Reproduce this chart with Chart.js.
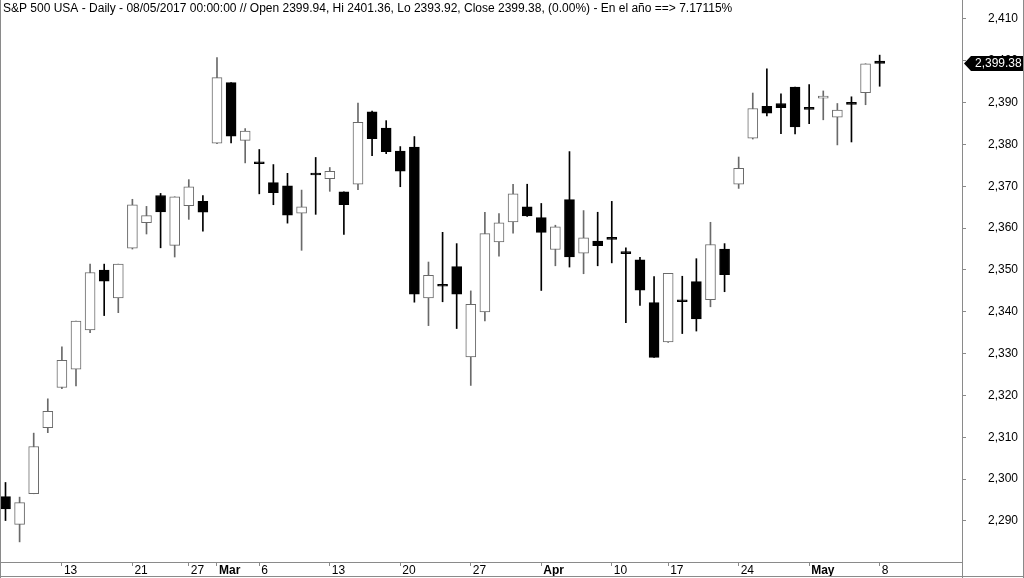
<!DOCTYPE html>
<html>
<head>
<meta charset="utf-8">
<script src="https://cdn.jsdelivr.net/npm/chart.js@4.4.1/dist/chart.umd.min.js"></script>
<style>
  html, body { margin: 0; padding: 0; background: #ffffff; }
  #wrap { width: 1024px; height: 578px; }
</style>
</head>
<body>
<div id="wrap"><canvas id="c" width="1024" height="578"></canvas></div>
<script>
// Trading days shown (index 0 = 2017-02-07 ... index 62 = 2017-05-08)
const days = [
  '07/02','08/02','09/02','10/02','13/02','14/02','15/02','16/02','17/02','21/02','22/02','23/02','24/02','27/02','28/02',
  '01/03','02/03','03/03','06/03','07/03','08/03','09/03','10/03','13/03','14/03','15/03','16/03','17/03','20/03','21/03','22/03','23/03','24/03','27/03','28/03','29/03','30/03','31/03',
  '03/04','04/04','05/04','06/04','07/04','10/04','11/04','12/04','13/04','17/04','18/04','19/04','20/04','21/04','24/04','25/04','26/04','27/04','28/04',
  '01/05','02/05','03/05','04/05','05/05','08/05'
];
const openVals = [2295.8, 2289.2, 2296.5, 2312.3, 2321.9, 2326.3, 2335.7, 2350.0, 2343.3, 2355.2, 2361.3, 2367.8, 2355.9, 2365.4, 2366.4,
  2380.3, 2394.8, 2381.0, 2375.4, 2370.9, 2370.1, 2363.6, 2372.7, 2371.8, 2368.7, 2370.5, 2387.8, 2383.9, 2378.4, 2379.4, 2343.3, 2346.2, 2350.8, 2329.2, 2340.0, 2356.7, 2361.5, 2365.1,
  2362.5, 2354.9, 2366.8, 2354.0, 2356.9, 2357.3, 2354.1, 2352.4, 2342.2, 2332.8, 2342.7, 2347.2, 2342.9, 2355.0, 2370.5, 2381.5, 2389.1, 2389.8, 2393.7,
  2388.6, 2391.1, 2386.5, 2389.8, 2392.4, 2399.94];
const highVals = [2299.2, 2295.7, 2311.0, 2319.2, 2331.6, 2337.8, 2351.4, 2351.4, 2351.4, 2366.9, 2365.2, 2368.3, 2367.5, 2371.6, 2367.8,
  2400.8, 2394.8, 2383.8, 2378.8, 2375.2, 2373.1, 2369.1, 2376.9, 2374.5, 2368.7, 2389.9, 2388.0, 2385.7, 2379.5, 2381.9, 2351.9, 2359.0, 2356.3, 2345.0, 2363.8, 2363.5, 2370.5, 2370.5,
  2365.9, 2360.7, 2378.3, 2364.2, 2363.8, 2366.4, 2355.3, 2353.0, 2348.4, 2349.2, 2348.5, 2352.7, 2361.4, 2356.3, 2377.0, 2392.3, 2398.1, 2392.1, 2393.7,
  2394.3, 2392.8, 2389.8, 2391.4, 2399.3, 2401.36];
const lowVals = [2290.1, 2285.0, 2296.5, 2311.1, 2321.6, 2322.3, 2335.0, 2339.1, 2339.8, 2355.0, 2358.6, 2355.3, 2353.1, 2362.1, 2359.3,
  2380.2, 2380.4, 2375.6, 2368.2, 2365.6, 2361.2, 2354.7, 2363.3, 2368.8, 2358.5, 2369.2, 2377.3, 2377.8, 2369.9, 2342.3, 2336.7, 2342.4, 2336.0, 2322.4, 2337.8, 2353.3, 2358.8, 2362.8,
  2345.1, 2351.0, 2350.7, 2349.1, 2351.0, 2351.7, 2337.4, 2341.5, 2329.1, 2332.7, 2334.8, 2335.4, 2341.2, 2344.8, 2369.5, 2381.3, 2386.8, 2382.6, 2382.5,
  2385.0, 2385.9, 2379.9, 2380.6, 2389.5, 2393.92];
const closeVals = [2292.9, 2294.4, 2307.8, 2316.2, 2328.4, 2337.8, 2349.4, 2347.3, 2351.4, 2365.6, 2363.0, 2363.9, 2367.5, 2369.9, 2363.8,
  2396.0, 2382.0, 2383.2, 2375.4, 2368.5, 2363.1, 2365.1, 2372.7, 2373.6, 2365.6, 2385.3, 2381.4, 2378.3, 2373.6, 2344.2, 2348.7, 2346.1, 2344.2, 2341.8, 2358.7, 2361.3, 2368.2, 2362.9,
  2359.0, 2360.3, 2353.1, 2357.7, 2355.8, 2357.3, 2353.9, 2345.2, 2329.1, 2349.2, 2342.4, 2338.3, 2356.1, 2348.9, 2374.3, 2388.6, 2387.5, 2388.8, 2384.2,
  2388.4, 2391.2, 2388.2, 2389.6, 2399.3, 2399.38];

const xTickIndex  = [4, 9, 13, 15, 18, 23, 28, 33, 38, 43, 47, 52, 57, 62];
const xTickLabels = ['13','21','27','Mar','6','13','20','27','Apr','10','17','24','May','8'];
const monthLabels = ['Mar','Apr','May'];
const yTicks = [2290, 2300, 2310, 2320, 2330, 2340, 2350, 2360, 2370, 2380, 2390, 2400, 2410];

const titleText = 'S&P 500 USA - Daily - 08/05/2017 00:00:00 // Open 2399.94, Hi 2401.36, Lo 2393.92, Close 2399.38, (0.00%) - En el año ==> 7.17115%';

const FONT = "Arial, 'Liberation Sans', sans-serif";
const GRAY = '#8a8a8a';
const UPLINE = '#6a6a6a';

const isUp = days.map((d, i) => closeVals[i] > openVals[i]);
const wickData = days.map((d, i) => ({ x: i, y: [lowVals[i], highVals[i]] }));
const bodyData = days.map((d, i) => ({ x: i, y: [openVals[i], closeVals[i]] }));

function noPad(s) { s.paddingTop = 0; s.paddingBottom = 0; s.paddingLeft = 0; s.paddingRight = 0; }

const framePlugin = {
  id: 'frame',
  afterDraw(chart) {
    const ctx = chart.ctx;
    const ys = chart.scales.y;
    const ca = chart.chartArea;
    ctx.save();
    // title text
    ctx.fillStyle = '#000';
    ctx.font = '12px ' + FONT;
    ctx.textBaseline = 'alphabetic';
    ctx.textAlign = 'left';
    ctx.fillText(titleText, 3, 12);
    // frame lines
    ctx.strokeStyle = GRAY;
    ctx.lineWidth = 1;
    ctx.beginPath();
    ctx.moveTo(0.5, 0); ctx.lineTo(0.5, 578);
    ctx.moveTo(1023.5, 0); ctx.lineTo(1023.5, 578);
    ctx.moveTo(0, 576.5); ctx.lineTo(1024, 576.5);
    ctx.moveTo(Math.round(ca.right) + 0.5, 0); ctx.lineTo(Math.round(ca.right) + 0.5, 578);
    ctx.stroke();
    // last price tag
    const last = closeVals.length - 1;
    const py = ys.getPixelForValue(closeVals[last]);
    const x0 = ca.right + 2, x1 = ca.right + 9, x2 = 1023;
    ctx.fillStyle = '#000';
    ctx.beginPath();
    ctx.moveTo(x0, py);
    ctx.lineTo(x1, py - 7.5);
    ctx.lineTo(x2, py - 7.5);
    ctx.lineTo(x2, py + 7.5);
    ctx.lineTo(x1, py + 7.5);
    ctx.closePath();
    ctx.fill();
    ctx.fillStyle = '#fff';
    ctx.font = '12px ' + FONT;
    ctx.textBaseline = 'middle';
    ctx.textAlign = 'left';
    ctx.fillText(closeVals[last].toLocaleString('en-US', { minimumFractionDigits: 2, maximumFractionDigits: 2 }), ca.right + 13, py + 0.5);
    ctx.restore();
  }
};

new Chart(document.getElementById('c'), {
  type: 'bar',
  data: {
    datasets: [
      {
        label: 'body',
        data: bodyData,
        grouped: false,
        order: 1,
        barThickness: 10,
        minBarLength: 2,
        borderWidth: 1,
        borderSkipped: false,
        backgroundColor: isUp.map(u => u ? '#ffffff' : '#000000'),
        borderColor: isUp.map(u => u ? UPLINE : '#000000')
      },
      {
        label: 'wick',
        data: wickData,
        grouped: false,
        order: 2,
        barThickness: 1,
        borderWidth: 0,
        backgroundColor: isUp.map(u => u ? UPLINE : '#000000')
      }
    ]
  },
  options: {
    responsive: false,
    animation: false,
    events: [],
    layout: { padding: 0 },
    plugins: { legend: { display: false }, tooltip: { enabled: false }, title: { display: false } },
    scales: {
      x: {
        type: 'linear',
        offset: false,
        min: -0.39,
        max: 67.84,
        afterBuildTicks: (s) => { s.ticks = xTickIndex.map(v => ({ value: v })); },
        afterFit: (s) => { s.height = 16; noPad(s); },
        grid: { offset: false, drawOnChartArea: false, drawTicks: true, tickLength: 4, color: GRAY },
        border: { display: true, color: GRAY, width: 1 },
        ticks: {
          autoSkip: false,
          maxRotation: 0,
          minRotation: 0,
          align: 'start',
          labelOffset: 2,
          padding: -3,
          color: '#000',
          font: (c) => ({ family: FONT, size: 12, weight: monthLabels.includes(xTickLabels[c.index]) ? 'bold' : 'normal' }),
          callback: (v, i) => xTickLabels[i]
        }
      },
      y: {
        type: 'linear',
        position: 'right',
        min: 2280.19,
        max: 2414.54,
        afterBuildTicks: (s) => { s.ticks = yTicks.map(v => ({ value: v })); },
        afterFit: (s) => { s.width = 62; noPad(s); },
        grid: { drawOnChartArea: false, drawTicks: true, tickLength: 4, color: GRAY },
        border: { display: true, color: GRAY, width: 1 },
        ticks: {
          padding: 22,
          crossAlign: 'near',
          color: '#000',
          font: { family: FONT, size: 12 },
          callback: (v) => v.toLocaleString('en-US')
        }
      }
    }
  },
  plugins: [framePlugin]
});
</script>
</body>
</html>
